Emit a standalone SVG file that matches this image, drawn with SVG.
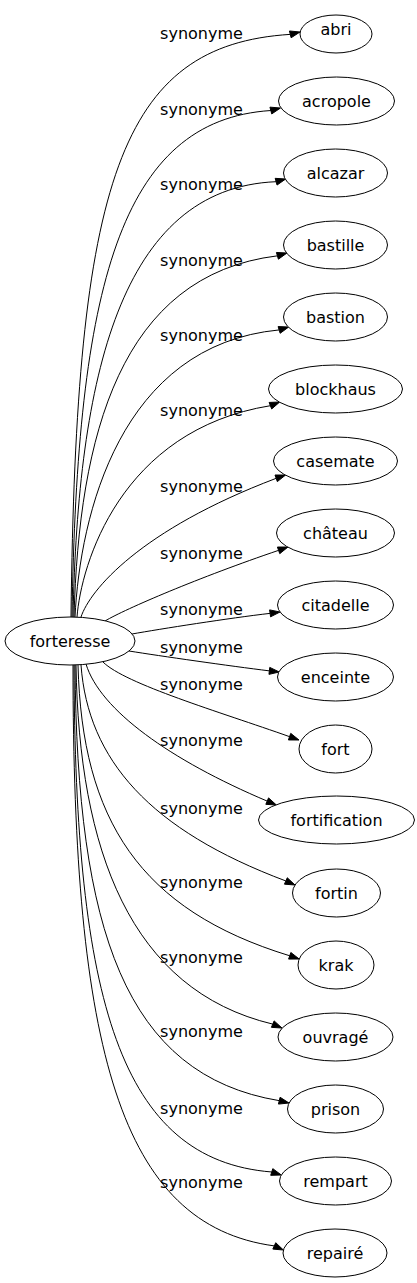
<svg xmlns="http://www.w3.org/2000/svg" width="417" height="1283" viewBox="0 0 417 1283">
<style>
.n ellipse{fill:#fff;stroke:#000;stroke-width:1}
text{font-family:"DejaVu Sans","Liberation Sans",sans-serif;font-size:16px;fill:#000;text-anchor:middle}
.e path{fill:none;stroke:#000;stroke-width:1}
.e polygon{fill:#000;stroke:#000;stroke-width:1}
</style>
<rect width="417" height="1283" fill="#fff"/>
<g id="edges" class="e">
<path d="M71,617 C76,180 120,45 290.29,34.37"/><polygon points="300,32 291.12,37.77 289.46,30.97"/>
<path d="M72,617 C77,288 120,120 270.83,110.53"/><polygon points="280.5,108 271.72,113.92 269.94,107.15"/>
<path d="M73,617 C78,378 120,188 276.1,181.7"/><polygon points="285.7,179 277.05,185.06 275.16,178.34"/>
<path d="M74,617 C79,436 120,275 277.41,255.83"/><polygon points="287,253 278.4,259.19 276.42,252.47"/>
<path d="M75,617 C80,515 120,345 279.14,329.93"/><polygon points="288.7,327 280.17,333.28 278.11,326.58"/>
<path d="M77,617 C81,565 120,430 270.4,405.7"/><polygon points="279.7,402 271.7,408.96 269.1,402.44"/>
<path d="M81,617 C90,590 140,530 276.17,478.32"/><polygon points="285.6,475 277.33,481.62 275.01,475.02"/>
<path d="M105,621 C125,609 200,577 278.58,550.35"/><polygon points="288,547 279.75,553.65 277.41,547.05"/>
<path d="M132,634 C160,629 230,618 270.09,613.36"/><polygon points="280,612 270.57,616.83 269.61,609.89"/>
<path d="M129,651 C160,656 230,666 269.36,670.87"/><polygon points="279.3,672 268.96,674.35 269.76,667.39"/>
<path d="M103,662 C125,684 220,712 289.57,736.66"/><polygon points="299,740 288.4,739.96 290.74,733.36"/>
<path d="M86,664 C100,710 170,760 267.2,801.1"/><polygon points="276.4,805 265.83,804.32 268.57,797.88"/>
<path d="M81,665 C88,760 150,830 285.86,880.96"/><polygon points="295,885 284.45,884.16 287.27,877.76"/>
<path d="M78,665 C82,820 140,910 289.73,955.79"/><polygon points="299.2,959 288.61,959.1 290.85,952.48"/>
<path d="M76,665 C79,850 130,990 272.78,1024.12"/><polygon points="282,1028 271.42,1027.35 274.14,1020.89"/>
<path d="M75,665 C77,930 125,1075 279.27,1100.67"/><polygon points="289,1103 278.45,1104.08 280.09,1097.26"/>
<path d="M74,665 C75,1000 120,1160 271.76,1171.99"/><polygon points="281.3,1175 270.71,1175.33 272.81,1168.65"/>
<path d="M73,665 C73,1050 120,1225 274.29,1245.9"/><polygon points="283.4,1250 272.85,1249.09 275.73,1242.71"/>
</g>
<g id="edge-labels">
<text x="201.5" y="39">synonyme</text>
<text x="201.5" y="115">synonyme</text>
<text x="201.5" y="190">synonyme</text>
<text x="201.5" y="266">synonyme</text>
<text x="201.5" y="341">synonyme</text>
<text x="201.5" y="416">synonyme</text>
<text x="201.5" y="492">synonyme</text>
<text x="201.5" y="559">synonyme</text>
<text x="201.5" y="615">synonyme</text>
<text x="201.5" y="653">synonyme</text>
<text x="201.5" y="690">synonyme</text>
<text x="201.5" y="746">synonyme</text>
<text x="201.5" y="814">synonyme</text>
<text x="201.5" y="888">synonyme</text>
<text x="201.5" y="963">synonyme</text>
<text x="201.5" y="1037">synonyme</text>
<text x="201.5" y="1114">synonyme</text>
<text x="201.5" y="1188">synonyme</text>
</g>
<g id="forteresse" class="n"><ellipse cx="70" cy="641" rx="65" ry="24"/><text x="70" y="646.5">forteresse</text></g>
<g id="abri" class="n"><ellipse cx="336" cy="34" rx="36" ry="19"/><text x="336" y="34.5">abri</text></g>
<g id="acropole" class="n"><ellipse cx="336.5" cy="101" rx="58" ry="24"/><text x="336.5" y="106.5">acropole</text></g>
<g id="alcazar" class="n"><ellipse cx="335.5" cy="173" rx="52" ry="24"/><text x="335.5" y="178.5">alcazar</text></g>
<g id="bastille" class="n"><ellipse cx="335.5" cy="245" rx="52" ry="24"/><text x="335.5" y="250.5">bastille</text></g>
<g id="bastion" class="n"><ellipse cx="335.5" cy="317" rx="52" ry="24"/><text x="335.5" y="322.5">bastion</text></g>
<g id="blockhaus" class="n"><ellipse cx="335.5" cy="389" rx="67" ry="24"/><text x="335.5" y="394.5">blockhaus</text></g>
<g id="casemate" class="n"><ellipse cx="335.5" cy="461" rx="62" ry="24"/><text x="335.5" y="466.5">casemate</text></g>
<g id="chateau" class="n"><ellipse cx="335.5" cy="533" rx="59" ry="24"/><text x="335.5" y="538.5">château</text></g>
<g id="citadelle" class="n"><ellipse cx="335.5" cy="605" rx="58" ry="24"/><text x="335.5" y="610.5">citadelle</text></g>
<g id="enceinte" class="n"><ellipse cx="335.5" cy="677" rx="58" ry="24"/><text x="335.5" y="682.5">enceinte</text></g>
<g id="fort" class="n"><ellipse cx="335.5" cy="749" rx="36.5" ry="24"/><text x="335.5" y="754.5">fort</text></g>
<g id="fortification" class="n"><ellipse cx="336.5" cy="820" rx="78" ry="24"/><text x="336.5" y="825.5">fortification</text></g>
<g id="fortin" class="n"><ellipse cx="336.5" cy="893" rx="44" ry="24"/><text x="336.5" y="898.5">fortin</text></g>
<g id="krak" class="n"><ellipse cx="336" cy="965" rx="38" ry="24"/><text x="336" y="970.5">krak</text></g>
<g id="ouvrage" class="n"><ellipse cx="335.5" cy="1037" rx="57.5" ry="24"/><text x="335.5" y="1042.5">ouvragé</text></g>
<g id="prison" class="n"><ellipse cx="335.5" cy="1109" rx="48" ry="24"/><text x="335.5" y="1114.5">prison</text></g>
<g id="rempart" class="n"><ellipse cx="335.5" cy="1181" rx="56" ry="24"/><text x="335.5" y="1186.5">rempart</text></g>
<g id="repaire" class="n"><ellipse cx="335" cy="1253" rx="52" ry="24"/><text x="335" y="1258.5">repairé</text></g>
</svg>
